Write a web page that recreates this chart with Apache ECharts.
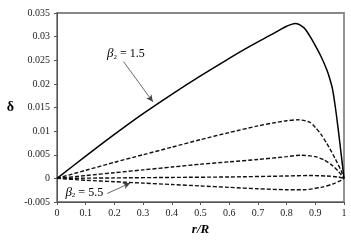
<!DOCTYPE html>
<html><head><meta charset="utf-8">
<script src="https://cdn.jsdelivr.net/npm/echarts@6/dist/echarts.min.js"></script>
<style>html,body{margin:0;padding:0;background:#fff}#c{width:351px;height:245px}</style>
</head><body><div id="c"></div>
<script>
var xTicks = [0,0.1,0.2,0.3,0.4,0.5,0.6,0.7,0.8,0.9,1];
var yTicks = [-0.005,0,0.005,0.01,0.015,0.02,0.025,0.03,0.035];

var x1 = [0,0.1,0.2,0.3,0.4,0.5,0.6,0.65,0.7,0.74,0.77,0.8,0.83,0.86,0.88,0.9,0.92,0.94,0.95,0.96,0.97,0.98,0.99,1];
var y1 = [0,0.0047,0.0093,0.0137,0.0178,0.0217,0.0254,0.0272,0.0289,0.0302,0.0312,0.0322,0.0328,0.0319,0.0302,0.0281,0.0258,0.0230,0.0212,0.0189,0.0150,0.0103,0.0052,0];

var x2 = [0,0.1,0.2,0.3,0.4,0.5,0.6,0.7,0.75,0.8,0.84,0.88,0.9,0.92,0.94,0.97,0.99,1];
var y2 = [0,0.0017,0.0034,0.0050,0.0066,0.0082,0.0097,0.0111,0.0117,0.0122,0.0124,0.0119,0.0108,0.0093,0.0074,0.0041,0.0016,0];

var x3 = [0,0.1,0.2,0.3,0.4,0.5,0.6,0.7,0.8,0.85,0.9,0.93,0.96,0.98,1];
var y3 = [0,0.0006,0.0012,0.0018,0.0024,0.0030,0.0035,0.0040,0.0046,0.0049,0.0046,0.0039,0.0027,0.0015,0];

var x4 = [0,0.2,0.4,0.6,0.8,0.88,0.94,0.98,1];
var y4 = [0,0.0001,0.0002,0.0003,0.0005,0.0006,0.0005,0.0003,0];

var x5 = [0,0.1,0.2,0.3,0.4,0.5,0.6,0.7,0.8,0.86,0.92,0.96,0.99,1];
var y5 = [0,-0.0004,-0.0007,-0.0010,-0.0013,-0.0016,-0.0019,-0.0022,-0.0024,-0.0024,-0.0019,-0.0012,-0.0004,0];

var ann1 = {text:'1.5', at:[0.24,0.0265], from:[0.232,0.0247], to:[0.334,0.0162]};
var ann2 = {text:'5.5', at:[0.095,-0.0029], from:[0.175,-0.0032], to:[0.255,-0.0010]};

function pts(xs, ys){ return xs.map(function(x,i){return [x, ys[i]];}); }

var FONT = 'Liberation Serif';
var chart = echarts.init(document.getElementById('c'), null, {renderer:'canvas'});
function dashed(xs, ys){
  return {type:'line', data:pts(xs,ys), smooth:0.25, showSymbol:false, symbol:'none',
    lineStyle:{color:'#111', width:1.4, type:[4,2]}, z:3};
}
var option = {
  animation:false,
  backgroundColor:'#fff',
  grid:{left:57, right:7, top:13, bottom:43, show:true, borderColor:'#888', borderWidth:1.8},
  xAxis:{type:'value', min:0, max:1, interval:0.1,
    name:'r/R', nameLocation:'middle', nameGap:20,
    nameTextStyle:{fontFamily:FONT, fontSize:13, fontWeight:'bold', fontStyle:'italic', color:'#000'},
    axisLine:{show:true, onZero:false, lineStyle:{color:'#555', width:1}},
    axisTick:{show:true, length:3, lineStyle:{color:'#555'}},
    axisLabel:{fontFamily:FONT, fontSize:10, color:'#222', margin:6,
      formatter:function(v){return String(+v.toFixed(3));}},
    splitLine:{show:false}},
  yAxis:{type:'value', min:-0.005, max:0.035, interval:0.005,
    name:'δ', nameLocation:'middle', nameGap:43, nameRotate:0,
    nameTextStyle:{fontFamily:FONT, fontSize:14, fontWeight:'bold', color:'#000'},
    axisLine:{show:true, onZero:false, lineStyle:{color:'#555', width:1}},
    axisTick:{show:true, length:3, lineStyle:{color:'#555'}},
    axisLabel:{fontFamily:FONT, fontSize:10, color:'#222', margin:7,
      formatter:function(v){return String(+v.toFixed(3));}},
    splitLine:{show:false}},
  series:[
    {type:'line', data:pts(x1,y1), smooth:0.3, showSymbol:false, symbol:'none',
      lineStyle:{color:'#000', width:1.5}, z:4,
      markLine:{silent:true, symbol:['none','arrow'], symbolSize:[5,7],
        lineStyle:{color:'#444', width:0.8, type:'solid'}, label:{show:false},
        data:[[{coord:ann1.from},{coord:ann1.to}],[{coord:ann2.from},{coord:ann2.to}]]}},
    dashed(x2,y2), dashed(x3,y3), dashed(x4,y4), dashed(x5,y5)
  ]
};
chart.setOption(option);

function label(a){
  var p = chart.convertToPixel({gridIndex:0}, a.at);
  return {type:'text', x:p[0], y:p[1], z:10,
    style:{text:'{b|β}{s|2}{t| = '+a.text+'}', align:'center', verticalAlign:'middle',
      rich:{
        b:{fontFamily:FONT, fontSize:13, fontStyle:'italic', fill:'#000', verticalAlign:'bottom', lineHeight:14},
        s:{fontFamily:FONT, fontSize:7, fill:'#000', verticalAlign:'bottom', lineHeight:10},
        t:{fontFamily:FONT, fontSize:12, fill:'#000', verticalAlign:'bottom', lineHeight:14}
      }}};
}
chart.setOption({graphic:[label(ann1), label(ann2)]});
</script></body></html>
